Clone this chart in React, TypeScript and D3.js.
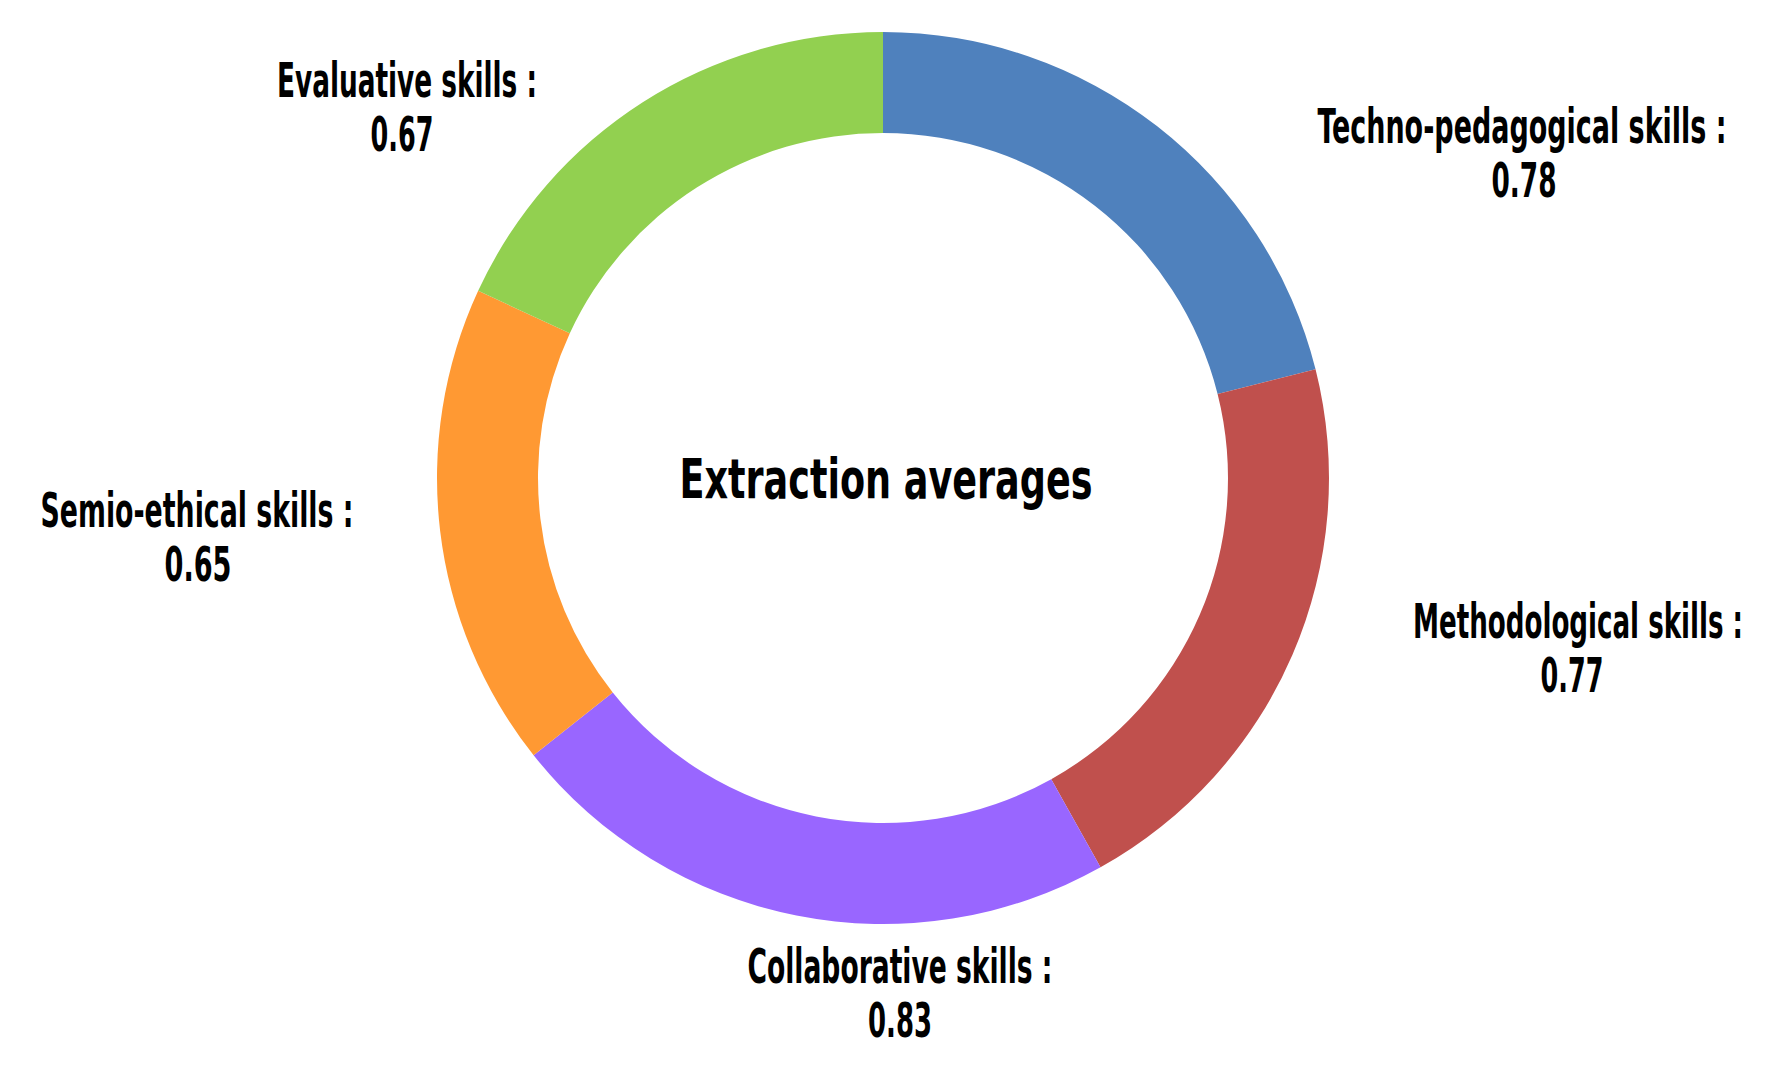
import React from "react";
import * as d3 from "d3";

const categories = [
  "Techno-pedagogical skills",
  "Methodological skills",
  "Collaborative skills",
  "Semio-ethical skills",
  "Evaluative skills",
];
const values = [0.78, 0.77, 0.83, 0.65, 0.67];
const colors = ["#4F81BD", "#C0504D", "#9966FF", "#FF9933", "#92D050"];
const title = "Extraction averages";

// label layout (centre x, baseline of first line, widths of the two lines)
const labelLayout = [
  { x: 1522, y: 143, w1: 409, x2: 1524, w2: 65 },
  { x: 1578, y: 638, w1: 330, x2: 1572, w2: 63 },
  { x: 900, y: 983, w1: 305, x2: 900, w2: 64 },
  { x: 197, y: 527, w1: 313, x2: 198, w2: 67 },
  { x: 407, y: 97, w1: 260, x2: 402, w2: 63 },
];

const W = 1789;
const H = 1079;
const cx = 883;
const cy = 478;
const outerR = 446;
const innerR = 345;
const FONT = "'Liberation Sans Narrow', 'DejaVu Sans Condensed', 'Roboto Condensed', sans-serif";

export default function App() {
  const pie = d3
    .pie<number>()
    .sort(null)
    .value((d) => d)
    .startAngle(0)
    .endAngle(2 * Math.PI);
  const arcs = pie(values);
  const arc = d3.arc<d3.PieArcDatum<number>>().innerRadius(innerR).outerRadius(outerR);
  const fmt = d3.format(".2f");

  return (
    <svg
      width={W}
      height={H}
      style={{ position: "absolute", left: 0, top: 0, background: "#fff" }}
      fontFamily={FONT}
    >
      <rect x={0} y={0} width={W} height={H} fill="#fff" />
      <g transform={`translate(${cx},${cy})`}>
        {arcs.map((a, i) => (
          <path key={i} d={arc(a) || ""} fill={colors[i]} />
        ))}
      </g>
      <text
        x={886}
        y={498}
        textAnchor="middle"
        fontSize={55}
        fontWeight="bold"
        fill="#000"
        textLength={413}
        lengthAdjust="spacingAndGlyphs"
      >
        {title}
      </text>
      {categories.map((c, i) => {
        const L = labelLayout[i];
        return (
          <g key={c}>
            <text
              x={L.x}
              y={L.y}
              textAnchor="middle"
              fontSize={48}
              fontWeight="bold"
              fill="#000"
              textLength={L.w1}
              lengthAdjust="spacingAndGlyphs"
            >
              {c + " :"}
            </text>
            <text
              x={L.x2}
              y={L.y + 54}
              textAnchor="middle"
              fontSize={48}
              fontWeight="bold"
              fill="#000"
              textLength={L.w2}
              lengthAdjust="spacingAndGlyphs"
            >
              {fmt(values[i])}
            </text>
          </g>
        );
      })}
    </svg>
  );
}
